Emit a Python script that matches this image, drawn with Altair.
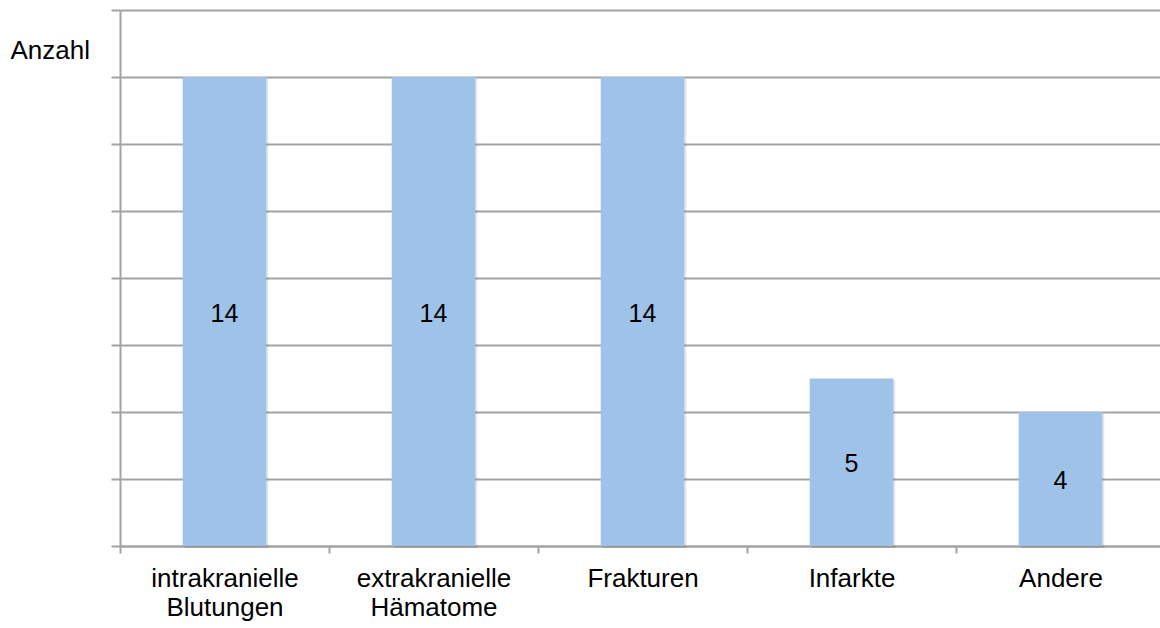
import altair as alt
import pandas as pd

# Befunde je Kategorie
categories = ["intrakranielle\nBlutungen", "extrakranielle\nHämatome", "Frakturen", "Infarkte", "Andere"]
counts = [14, 14, 14, 5, 4]
y_ticks = [0, 2, 4, 6, 8, 10, 12, 14, 16]

df = pd.DataFrame({"kategorie": categories, "anzahl": counts})

FONT = "Liberation Sans"
GRID = "#a3a3a3"
BAR = "#9fc2e8"

# Bands without padding so the category ticks sit between the bars
x_scale = alt.Scale(range=[0, 1045], paddingInner=0, paddingOuter=0)

x_enc = alt.X(
    "kategorie:N",
    sort=categories,
    scale=x_scale,
    axis=alt.Axis(
        title=None,
        labelExpr="split(datum.label, '\\n')",
        labelAngle=0,
        labelFont=FONT,
        labelFontSize=26,
        labelLineHeight=29,
        labelColor="black",
        labelPadding=12,
        tickBand="extent",
        tickSize=7,
        tickColor=GRID,
        tickWidth=2,
        domainColor=GRID,
        domainWidth=2,
    ),
)

y_scale = alt.Scale(domain=[0, 16], nice=False)

base = alt.Chart(df)

shadow = base.mark_bar(
    color="#000000", opacity=0.10, width=alt.RelativeBandSize(0.4),
    xOffset=2, x2Offset=2, yOffset=2, y2Offset=2,
).encode(x=x_enc, y=alt.Y("anzahl:Q", scale=y_scale))

bars = base.mark_bar(color=BAR, width=alt.RelativeBandSize(0.4)).encode(
    x=x_enc,
    y=alt.Y(
        "anzahl:Q",
        scale=y_scale,
        axis=alt.Axis(
            values=y_ticks,
            labels=False,
            grid=True,
            gridColor=GRID,
            gridWidth=2,
            tickSize=9,
            tickColor=GRID,
            tickWidth=2,
            domainColor=GRID,
            domainWidth=2,
            title="Anzahl",
            titleAngle=0,
            titleX=-110,
            titleY=40,
            titleAlign="left",
            titleBaseline="middle",
            titleFont=FONT,
            titleFontSize=26,
            titleFontWeight="normal",
            titleColor="black",
        ),
    ),
)

labels = base.transform_calculate(mitte="datum.anzahl / 2").mark_text(
    font=FONT, fontSize=25, color="black", baseline="middle", dy=2
).encode(
    x=alt.X("kategorie:N", sort=categories, scale=x_scale),
    y=alt.Y("mitte:Q", scale=y_scale),
    text=alt.Text("anzahl:Q"),
)

chart = (
    alt.layer(shadow, bars, labels)
    .properties(
        width=1040,
        height=536,
        autosize=alt.AutoSizeParams(type="none"),
        padding={"left": 120, "top": 10, "right": 0, "bottom": 82},
        background="white",
    )
    .configure_view(stroke=None)
)

chart.save("out.html", embed_options={"renderer": "svg", "actions": False})
